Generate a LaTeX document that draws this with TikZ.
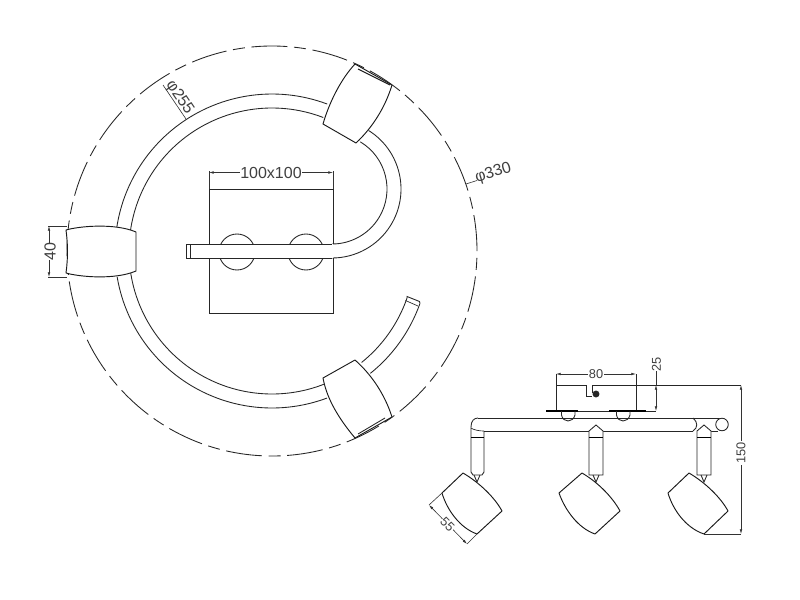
\documentclass[tikz,border=0pt]{standalone}
\usepackage{fontspec}
\setmainfont{Liberation Sans}
\usetikzlibrary{arrows.meta,calc}
\tikzset{
  ln/.style={draw=black!85,line width=0.65pt},
  lampshape/.style={draw=black!90,line width=0.7pt,fill=white,line join=round},
  band/.style={draw=black,line width=1.2pt},
  dimln/.style={draw=black!80,line width=0.45pt},
  dimarr/.style={dimln,{Latex[length=3.5pt,width=2pt]}-{Latex[length=3.5pt,width=2pt]}},
  lblbig/.style={font=\fontsize{12}{12}\selectfont,text=black!75,inner sep=1pt},
  lblsmall/.style={font=\fontsize{9.6}{10}\selectfont,text=black!75,inner sep=1pt},
}
\begin{document}
\begin{tikzpicture}[x=0.75pt,y=-0.75pt]
\useasboundingbox (0,0) rectangle (800,600);
\fill[white] (0,0) rectangle (800,600);
\coordinate (c) at (272,251);
% dashed outer circle
\draw[ln,dash pattern=on 27pt off 5pt on 9pt off 5pt] (c) circle[radius=153.75pt];
% ring arcs
\draw[ln] ($(c)+(69.4:117.75pt)$) arc[start angle=69.4,end angle=171.3,radius=117.75pt];
\draw[ln] ($(c)+(69:107.25pt)$) arc[start angle=69,end angle=172.4,radius=107.25pt];
\draw[ln] ($(c)+(189.5:117.75pt)$) arc[start angle=189.5,end angle=290.5,radius=117.75pt];
\draw[ln] ($(c)+(188.8:107.25pt)$) arc[start angle=188.8,end angle=291.2,radius=107.25pt];
\draw[ln] ($(c)+(-51.2:117.75pt)$) arc[start angle=-51.2,end angle=-19.5,radius=117.75pt] coordinate (tailA);
\draw[ln] ($(c)+(-51.2:107.25pt)$) arc[start angle=-51.2,end angle=-19.3,radius=107.25pt] coordinate (tailB);
\draw[ln] (tailA) -- (419.5,301.5) -- (407,296.5) -- (tailB);
\draw[ln,line width=0.5pt] (418,306) -- (405.5,300.5);
% hook
\coordinate (hc) at (332,189);
\draw[ln] ($(hc)+(58:51.75pt)$) arc[start angle=58,end angle=-90,radius=51.75pt];
\draw[ln] ($(hc)+(59:41.25pt)$) arc[start angle=59,end angle=-90,radius=41.25pt];
% mount plate top view
\draw[ln] (209,244) -- (209,189) -- (333,189) -- (333,244);
\draw[ln] (209,258) -- (209,313) -- (333,313) -- (333,258);
\draw[ln] (237,252) circle[radius=13.5pt];
\draw[ln] (306,252) circle[radius=13.5pt];
\fill[white] (186,244) rectangle (333,258);
\draw[ln] (332,244) -- (186.5,244) -- (186.5,258) -- (332,258);
\draw[ln,line width=0.5pt] (190,244) -- (190,258);
% dim 100x100
\draw[dimln] (209,189) -- (209,171);
\draw[dimln] (333,189) -- (333,171);
\draw[dimarr] (209,172.5) -- (333,172.5);
\node[lblbig,fill=white,inner xsep=0pt] (dimsq) at (271,172.5) {100x100};
% left lamp
\draw[lampshape] (66,230) .. controls (80,226) and (115,223) .. (136,232) -- (136,271)
  .. controls (115,280) and (80,277) .. (66,273) .. controls (68,258) and (68,245) .. (66,230) -- cycle;
\draw[dimarr] (49,226) -- (49,277);
\draw[dimln] (48,226) -- (67,226);
\draw[dimln] (48,277) -- (67,277);
\node[lblbig,fill=white,inner ysep=0.5pt,inner xsep=0pt,rotate=90] (dim40) at (50,251.5) {40};
% top lamp
\draw[lampshape] (355,64) .. controls (342,78) and (330,100) .. (323,124) -- (356,143)
  .. controls (372,128) and (385,108) .. (392,85);
\draw[lampshape,fill=none] (355,64) -- (392,85);
\draw[lampshape,fill=none] (358,69) -- (390,85);
% bottom lamp
\draw[lampshape] (323,378) .. controls (327,400) and (340,420) .. (355,438) -- (392,417)
  .. controls (385,395) and (372,375) .. (355,360) -- cycle;
\draw[ln] (358,434) -- (385,418);
% phi labels
\draw[dimln] (163,85) -- (186,119);
\node[lblbig,rotate=-56,anchor=south,inner sep=0.3pt] (dim255) at (173,102) {φ255};
\draw[dimln] (466,184) -- (477,180.5);
\node[lblbig,rotate=17,anchor=west,inner sep=0.3pt] (dim330) at (475,179) {φ330};
% side view: plate
\draw[ln] (556,374) -- (556,411);
\draw[ln] (636,374) -- (636,411);
\draw[ln] (556,385) -- (586,385) -- (586,396.5) -- (592,396.5);
\draw[ln] (592,393) -- (592,385) -- (741,385);
\fill[black!85] (596,394) circle[radius=2.6pt];
\draw[band] (546,411) -- (578,411);
\draw[ln] (578,411) -- (609,411);
\draw[band] (609,411) -- (646,411);
\draw[ln] (646,411) -- (656,411);
\draw[dimarr] (556,374) -- (636,374);
\node[lblsmall,fill=white,inner xsep=1pt] (dim80) at (596,374) {80};
\draw[dimarr] (656,385) -- (656,411);
\draw[dimln] (656,385) -- (656,371);
\node[lblsmall,rotate=90] (dim25) at (656.5,364) {25};
% bar
\draw[ln] (478,418) -- (720,418);
\draw[ln] (484,431) -- (693,431);
\draw[ln] (711,431) -- (718,431);
\draw[ln] (693,418) .. controls (698,422) and (698,428) .. (693,431);
\draw[ln,fill=white] (722,424.5) circle[radius=4.7pt];
% feet
\draw[ln] (561.5,411) -- (561.5,415) .. controls (563,423) and (573,423) .. (575,415) -- (575,411);
\draw[ln] (616.5,411) -- (616.5,415) .. controls (618,423) and (628,423) .. (630,415) -- (630,411);
% left stem
\draw[ln] (478,418) .. controls (474,418) and (471,421) .. (471,427) -- (471,472) -- (473,475) -- (482,475) -- (484,472) -- (484,431);
\draw[ln,line width=0.5pt] (471,428) .. controls (474,430) and (479,431) .. (484,431);
\draw[band] (471,437.5) -- (484,437.5);
% middle stem
\draw[ln,fill=white] (589,475) -- (589,431) -- (596,425) -- (603,431) -- (603,475) -- cycle;
\draw[band] (589,437.5) -- (603,437.5);
% right stem
\draw[ln,fill=white] (697,475) -- (697,431) -- (704,425) -- (711,431) -- (711,475) -- cycle;
\draw[band] (697,437.5) -- (711,437.5);
% small joints
\foreach \sx in {477,596,704}{
  \draw[ln] (\sx-3,475) -- (\sx,482) -- (\sx+3,475);
}
% left lamp side
\draw[lampshape] (463,473) .. controls (480,483) and (495,498) .. (502,511) -- (477,534)
  .. controls (460,528) and (447,510) .. (442,493) -- cycle;
\draw[dimln] (442,493) -- (429,505);
\draw[dimln] (477,534) -- (467,544);
\draw[dimarr] (429,505) -- (467,544);
\node[lblsmall,fill=white,inner sep=0.3pt,rotate=-45] (dim55) at (447.5,524.5) {55};
% middle lamp side
\draw[lampshape] (582,473) .. controls (599,483) and (613,498) .. (620,511) -- (595,534)
  .. controls (578,528) and (565,510) .. (559,493) -- cycle;
% right lamp side
\draw[lampshape] (689,473) .. controls (706,483) and (721,498) .. (728,511) -- (704,534)
  .. controls (686,528) and (673,510) .. (668,493) -- cycle;
% dim 150
\draw[dimln] (704,534) -- (741,534);
\draw[dimarr] (741,385) -- (741,534);
\node[lblsmall,fill=white,rotate=90] (dim150) at (741,453) {150};
\end{tikzpicture}
\end{document}
